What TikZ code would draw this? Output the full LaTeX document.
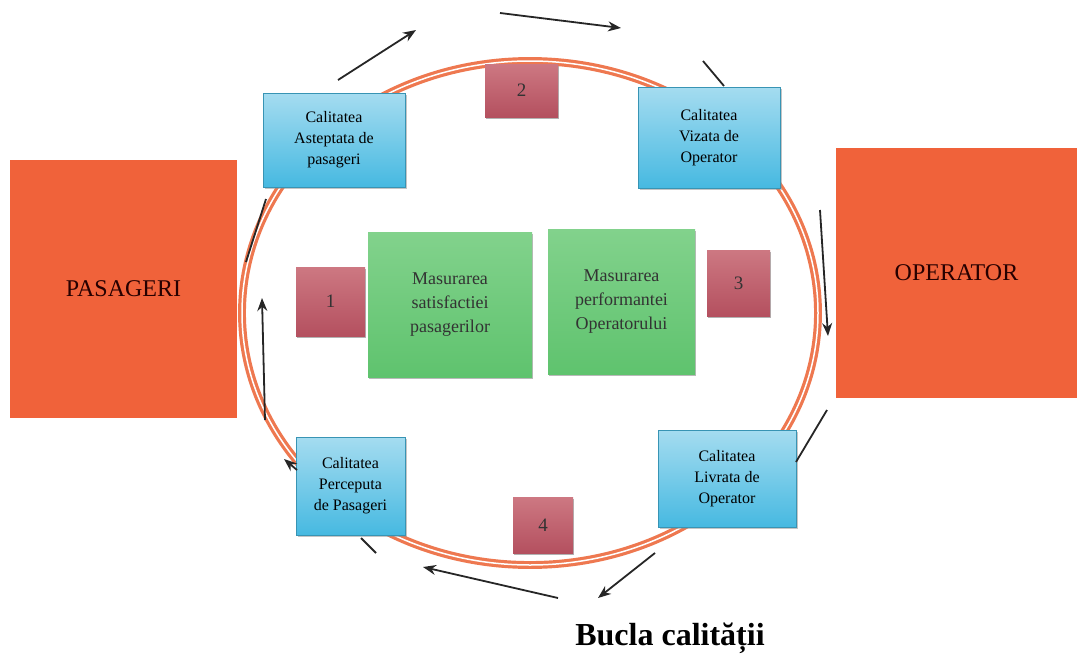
\documentclass[tikz,border=0pt]{standalone}
\usepackage{fontspec}
\setmainfont{Liberation Serif}
\usetikzlibrary{arrows.meta,shadows}
\definecolor{rosu}{RGB}{240,98,58}
\definecolor{inel}{RGB}{238,120,80}
\definecolor{albastru}{RGB}{70,185,225}
\definecolor{albdeschis}{RGB}{165,220,240}
\definecolor{verde}{RGB}{95,195,110}
\definecolor{verdedeschis}{RGB}{130,210,140}
\definecolor{bordo}{RGB}{180,80,95}
\definecolor{bordodeschis}{RGB}{205,120,130}
\begin{document}
\begin{tikzpicture}[x=1pt,y=-1pt]
\tikzstyle{mare}=[fill=rosu,font=\fontsize{24}{28}\selectfont,text=black!85!red,inner sep=0pt]
\tikzstyle{calit}=[top color=albdeschis,bottom color=albastru,draw=albastru!80!black,
  drop shadow={shadow xshift=1.5pt,shadow yshift=-2pt,fill=black!45},
  align=center,font=\fontsize{16}{21}\selectfont,inner sep=0pt]
\tikzstyle{masura}=[top color=verdedeschis,bottom color=verde,
  drop shadow={shadow xshift=1pt,shadow yshift=-2pt,fill=black!55},
  align=center,font=\fontsize{18}{24}\selectfont,text=black!80,inner sep=0pt]
\tikzstyle{nr}=[top color=bordodeschis,bottom color=bordo,
  drop shadow={shadow xshift=1pt,shadow yshift=-2pt,fill=black!60},
  font=\fontsize{19}{22}\selectfont,text=black!80,inner sep=0pt]
\tikzstyle{sageata}=[draw=black!85,line width=1.8pt,-{Stealth[length=13pt,width=10pt]}]
\tikzstyle{linie}=[draw=black!85,line width=1.8pt]
\useasboundingbox (0,0) rectangle (1077,656);
% bucla
\draw[inel,line width=3.2pt,double=white,double distance=1.5pt] (530,313) ellipse [x radius=288pt,y radius=252pt];
% actori
\node[mare,minimum width=227pt,minimum height=258pt] (pas) at (123.5,289) {PASAGERI};
\node[mare,minimum width=241pt,minimum height=250pt] (op) at (956.5,273) {OPERATOR};
% calitatea
\node[calit,minimum width=142pt,minimum height=94pt] (asteptata) at (334,140) {Calitatea\\Asteptata de\\pasageri};
\node[calit,minimum width=142pt,minimum height=101pt] (vizata) at (709,137.5) {Calitatea\\Vizata de\\Operator};
\node[calit,minimum width=138pt,minimum height=97pt] (livrata) at (727,478.5) {Calitatea\\Livrata de\\Operator};
\node[calit,minimum width=109pt,minimum height=98pt] (perceputa) at (350.5,486) {Calitatea\\Perceputa\\de Pasageri};
% masurare
\node[masura,minimum width=164pt,minimum height=145pt] (satisf) at (450,304.5) {Masurarea\\satisfactiei\\pasagerilor};
\node[masura,minimum width=147pt,minimum height=145pt] (perf) at (621.5,301.5) {Masurarea\\performantei\\Operatorului};
% numere
\node[nr,minimum width=69pt,minimum height=69pt] (n1) at (330.5,301.5) {1};
\node[nr,minimum width=73pt,minimum height=53pt] (n2) at (521.5,90.5) {2};
\node[nr,minimum width=63pt,minimum height=66pt] (n3) at (738.5,283) {3};
\node[nr,minimum width=60pt,minimum height=56pt] (n4) at (543,525) {4};
% capete de sageti
\coordinate (s1a) at (246,262); \coordinate (s1b) at (266,199);
\coordinate (s2a) at (338,80);  \coordinate (s2b) at (416,30);
\coordinate (s3a) at (500,13);  \coordinate (s3b) at (621,28);
\coordinate (s4a) at (703,61);  \coordinate (s4b) at (724,86);
\coordinate (s5a) at (820,210); \coordinate (s5b) at (828,336);
\coordinate (s6a) at (827,410); \coordinate (s6b) at (796,462);
\coordinate (s7a) at (655,553); \coordinate (s7b) at (598,598);
\coordinate (s8a) at (558,598); \coordinate (s8b) at (423,567);
\coordinate (s9a) at (376,553); \coordinate (s9b) at (361,538);
\coordinate (s10a) at (297,470); \coordinate (s10b) at (284,459);
\coordinate (s11a) at (265,420); \coordinate (s11b) at (262,298);
\draw[linie] (s1a) -- (s1b);
\draw[sageata] (s2a) -- (s2b);
\draw[sageata] (s3a) -- (s3b);
\draw[linie] (s4a) -- (s4b);
\draw[sageata] (s5a) -- (s5b);
\draw[linie] (s6a) -- (s6b);
\draw[sageata] (s7a) -- (s7b);
\draw[sageata] (s8a) -- (s8b);
\draw[linie] (s9a) -- (s9b);
\draw[sageata] (s10a) -- (s10b);
\draw[sageata] (s11a) -- (s11b);
% titlu
\node[font=\bfseries\fontsize{32}{36}\selectfont] (titlu) at (670,638) {Bucla calității};
\end{tikzpicture}
\end{document}
